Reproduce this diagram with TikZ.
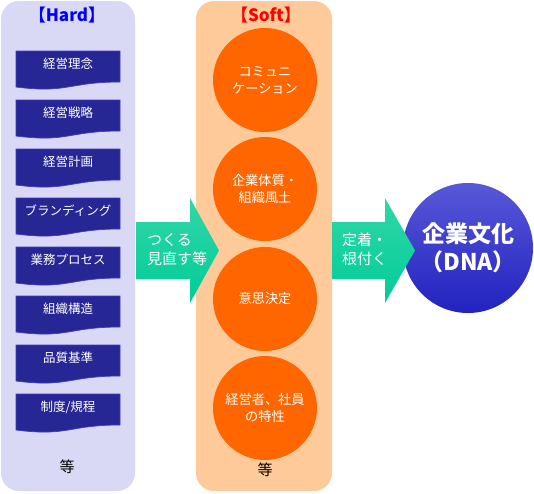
\documentclass[tikz,border=0pt]{standalone}
\usepackage{fontspec}
\setmainfont{Noto Sans CJK JP}
\definecolor{hardbg}{RGB}{217,217,245}
\definecolor{softbg}{RGB}{255,202,153}
\definecolor{docblue}{RGB}{38,38,148}
\definecolor{docedge}{RGB}{60,60,200}
\definecolor{softorange}{RGB}{255,102,0}
\definecolor{arrowtop}{RGB}{50,214,166}
\definecolor{arrowbot}{RGB}{0,204,153}
\definecolor{dnatop}{RGB}{88,88,216}
\definecolor{dnabot}{RGB}{34,34,192}
\begin{document}
\begin{tikzpicture}[x=1pt,y=-1pt,
  panel/.style={rounded corners=18pt},
  docbox/.style={fill=docblue, draw=docedge, line width=0.7pt},
  doctext/.style={text=white, inner sep=0pt, font=\fontsize{12.5}{15}\selectfont},
  softcircle/.style={circle, fill=softorange, minimum size=104pt, inner sep=0pt, text=white, align=center, font=\fontsize{13.2}{17}\selectfont},
  blockarrow/.style={top color=arrowtop, bottom color=arrowbot, draw=none},
  arrowtext/.style={text=white, align=left, inner sep=0pt, font=\fontsize{15}{19}\selectfont},
  title/.style={font=\bfseries\fontsize{17}{19}\selectfont, inner sep=0pt},
  etc/.style={font=\fontsize{15}{18}\selectfont, inner sep=0pt}
]
\useasboundingbox (0,0) rectangle (534,493);
\fill[white] (0,0) rectangle (534,493);
% panels
\fill[hardbg, panel] (1,1) rectangle (135,491);
\fill[softbg, panel] (196,1) rectangle (332,491);
\node[title, text={rgb,255:red,0;green,0;blue,255}] (hardtitle) at (67,15) {【Hard】};
\node[title, text={rgb,255:red,255;green,0;blue,0}] (softtitle) at (266,15) {【Soft】};
% hard documents
\foreach \t [count=\i from 0] in {経営理念,経営戦略,経営計画,ブランディング,業務プロセス,組織構造,品質基準,制度/規程} {
  \pgfmathsetmacro\ty{51+49*\i}
  \path[docbox] (16,\ty) -- (120,\ty) -- (120,\ty+31)
     .. controls (68,\ty+31) and (68,\ty+42.7) .. (16,\ty+36) -- cycle;
  \node[doctext] (h\i) at (68,\ty+13) {\t};
}
\node[etc] (hardetc) at (67,467) {等};
% soft circles
\node[softcircle] (s1) at (265,80) {コミュニ\\ケーション};
\node[softcircle] (s2) at (265,189) {企業体質・\\組織風土};
\node[softcircle] (s3) at (265,299) {意思決定};
\node[softcircle] (s4) at (265,408) {経営者、社員\\の特性};
\node[etc] (softetc) at (265,470) {等};
% DNA circle
\node[circle, minimum size=130pt, inner sep=0pt, top color=dnatop, bottom color=dnabot,
      text=white, align=center, font=\bfseries\fontsize{23}{28}\selectfont] (dna) at (468,248) {企業文化\\（DNA）};
% block arrows
\path[blockarrow] (136,222) -- (190,222) -- (190,198) -- (219,250.5) -- (190,303) -- (190,279) -- (136,279) -- cycle;
\node[arrowtext, anchor=west] (a1) at (147,250) {つくる\\見直す等};
\path[blockarrow] (332,222) -- (385,222) -- (385,198) -- (415,250.5) -- (385,303) -- (385,279) -- (332,279) -- cycle;
\node[arrowtext, anchor=west] (a2) at (342,249) {定着・\\根付く};
\end{tikzpicture}
\end{document}
